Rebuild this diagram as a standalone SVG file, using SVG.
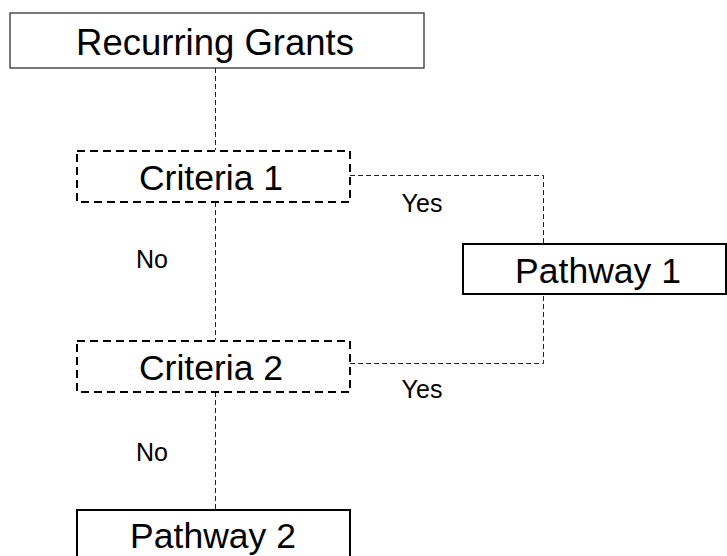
<svg xmlns="http://www.w3.org/2000/svg" width="727" height="556" viewBox="0 0 727 556">
<style>
text{font-family:"Liberation Sans",Arial,sans-serif;fill:#000;text-anchor:middle}
.big{font-size:35.5px}
.lbl{font-size:25px}
.solid{fill:#fff;stroke:#000;stroke-width:2}
.thin{fill:#fff;stroke:#333;stroke-width:1.3}
.dash{fill:#fff;stroke:#000;stroke-width:2;stroke-dasharray:8 5}
.conn{fill:none;stroke:#222;stroke-width:1;stroke-dasharray:5 3}
</style>
<rect width="727" height="556" fill="#fff"/>
<g id="connectors">
<path class="conn" d="M215.5 68 V150"/>
<path class="conn" d="M215.5 202 V340"/>
<path class="conn" d="M215.5 392 V509"/>
<path class="conn" d="M350 175.5 H543.5 V243"/>
<path class="conn" d="M350 363.5 H543.5 V294"/>
</g>
<g id="recurring-grants">
<rect class="thin" x="10" y="13" width="414" height="55"/>
<text class="big" x="215" y="55" style="font-size:36.5px">Recurring Grants</text>
</g>
<g id="criteria-1">
<rect class="dash" x="77" y="151" width="273" height="51"/>
<text class="big" x="211" y="190">Criteria 1</text>
</g>
<g id="criteria-2">
<rect class="dash" x="77" y="341" width="273" height="51"/>
<text class="big" x="211" y="380">Criteria 2</text>
</g>
<g id="pathway-1">
<rect class="solid" x="463" y="244" width="263" height="50"/>
<text class="big" x="598" y="283">Pathway 1</text>
</g>
<g id="pathway-2">
<rect class="solid" x="77" y="510" width="273" height="60"/>
<text class="big" x="213" y="548">Pathway 2</text>
</g>
<g id="labels">
<text class="lbl" x="422" y="212">Yes</text>
<text class="lbl" x="152" y="268">No</text>
<text class="lbl" x="422" y="398">Yes</text>
<text class="lbl" x="152" y="461">No</text>
</g>
</svg>
